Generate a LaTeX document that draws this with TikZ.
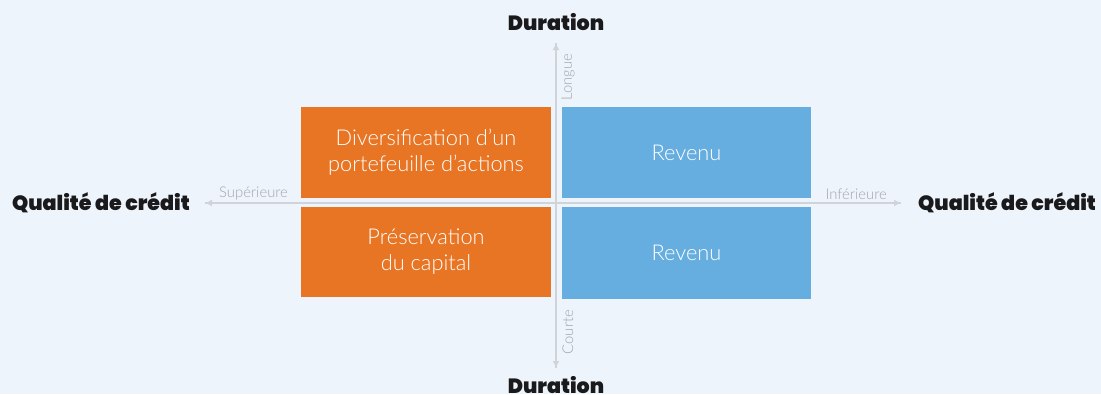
\documentclass[tikz,border=0pt]{standalone}
\usepackage{fontspec}
\setmainfont{Lato}[UprightFont=* Light]
\newfontfamily\titlefont{Poppins}[UprightFont=* Black]
\usetikzlibrary{calc, positioning, arrows.meta}
\definecolor{bgblue}{RGB}{238,244,251}
\definecolor{quadorange}{RGB}{232,117,36}
\definecolor{quadblue}{RGB}{103,174,224}
\definecolor{axisgray}{RGB}{208,212,216}
\definecolor{labelgray}{RGB}{160,165,171}
\definecolor{titleblack}{RGB}{26,26,28}

\begin{document}
\begin{tikzpicture}[x=1pt, y=-1pt]

    \fill [bgblue] (0,0) rectangle (1101,394);
    \useasboundingbox (0,0) rectangle (1101,394); % pixel grid of the slide, y downwards

    % end points of the two axes
    \coordinate (xleft)  at (205,203);
    \coordinate (xright) at (901,203);
    \coordinate (ytop)   at (556,43);
    \coordinate (ybot)   at (556,368);

    \draw [axisgray, line width=1.4pt, -{Latex[length=7pt, width=7pt]}] (xright) -- (xleft);
    \draw [axisgray, line width=1.4pt, -{Latex[length=7pt, width=7pt]}] (xleft) -- (xright);
    \draw [axisgray, line width=1.4pt, -{Latex[length=7pt, width=7pt]}] (ybot) -- (ytop);
    \draw [axisgray, line width=1.4pt, -{Latex[length=7pt, width=7pt]}] (ytop) -- (ybot);

    % the four quadrants, fixed size and text in white
    \begin{scope}[every node/.style={minimum width=250pt, minimum height=91pt, inner sep=0pt,
                                     text=white, align=center, font=\fontsize{21.8}{26}\selectfont},
                  og/.style={fill=quadorange},
                  bl/.style={fill=quadblue}]

    \node [og] (divers)  at (426,152.5) {Diversification d’un\\portefeuille d’actions};
    \node [og, minimum height=90pt] (capital) at (426,252) {Préservation\\du capital};
    \node [bl, minimum width=249pt] (revhaut) at (686.5,152.5) {Revenu};
    \node [bl, minimum width=249pt, minimum height=92pt] (revbas) at (686.5,253) {Revenu};

    \end{scope}

    % small grey labels along the axes
    \begin{scope}[every node/.style={text=labelgray, inner sep=1pt, font=\fontsize{14.8}{16}\selectfont}]

    \node (sup)    [above right=2pt and 13pt of xleft]  {Supérieure};
    \node (inf)    [above left=2pt and 13pt of xright]  {Inférieure};
    \node (longue) [rotate=90] at (568,77)  {Longue};
    \node (courte) [rotate=90] at (568,332) {Courte};

    \end{scope}

    % axis titles
    \begin{scope}[every node/.style={text=titleblack, inner sep=1pt, font=\titlefont\fontsize{20.6}{22}\selectfont}]

    \node (durhaut) at (556,22)  {Duration};
    \node (durbas)  at (556,385) {Duration};
    \node (qualg)   [left=14pt of xleft]  {Qualité de crédit};
    \node (quald)   [right=16pt of xright] {Qualité de crédit};

    \end{scope}

\end{tikzpicture}
\end{document}
